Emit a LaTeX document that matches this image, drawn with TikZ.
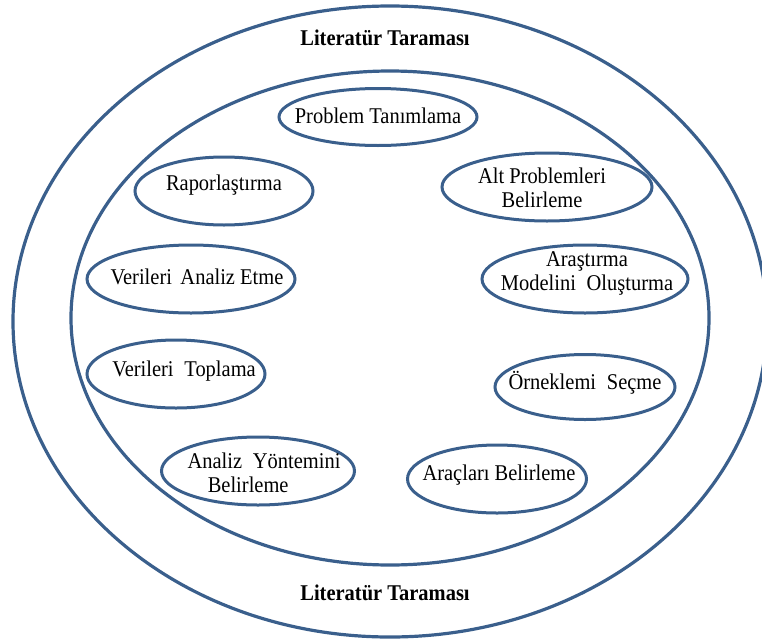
\documentclass[tikz,border=0pt]{standalone}
\usepackage{fontspec}
\setmainfont{Liberation Serif}[FakeStretch=0.91]
\usetikzlibrary{shapes.geometric}
\definecolor{ringblue}{HTML}{3A5F8C}
\begin{document}
\begin{tikzpicture}[x=1pt,y=-1pt,
  ring/.style={ellipse, draw=ringblue, line width=3.2pt, inner sep=0pt, outer sep=0pt},
  stage/.style={ellipse, draw=ringblue, line width=3pt, inner sep=0pt, outer sep=0pt},
  lbl/.style={font=\fontsize{22.5}{24}\selectfont, align=center, inner sep=0pt},
  title/.style={font=\bfseries\fontsize{22.5}{24}\selectfont, inner sep=0pt}]
\useasboundingbox (0,0) rectangle (762,640);
\clip (0,0) rectangle (762,640);
% rings
\node[ring, minimum width=754pt, minimum height=631pt] (outer) at (390,321.5) {};
\node[ring, minimum width=638pt, minimum height=494pt] (inner) at (390,318) {};
\node[title] (ttop) at (385,38) {Literatür Taraması};
\node[title] (tbot) at (385,593) {Literatür Taraması};
% stages
\node[stage, minimum width=198pt, minimum height=57pt] (p1) at (378,117) {};
\node[stage, minimum width=210pt, minimum height=68pt] (p2) at (547,187) {};
\node[stage, minimum width=206pt, minimum height=68pt] (p3) at (585,279) {};
\node[stage, minimum width=180pt, minimum height=65pt] (p4) at (585,387) {};
\node[stage, minimum width=179pt, minimum height=68pt] (p5) at (497,479) {};
\node[stage, minimum width=193pt, minimum height=68pt] (p6) at (258,471) {};
\node[stage, minimum width=178pt, minimum height=68pt] (p7) at (176,374) {};
\node[stage, minimum width=208pt, minimum height=68pt] (p8) at (191,279) {};
\node[stage, minimum width=178pt, minimum height=68pt] (p9) at (224,191) {};
% labels
\node[lbl] (t1) at ([yshift=1pt]p1.center) {Problem Tanımlama};
\node[lbl] (t2) at ([xshift=-5pt,yshift=-1pt]p2.center) {Alt Problemleri\\Belirleme};
\node[lbl] (t3) at ([xshift=2pt,yshift=6pt]p3.center) {Araştırma\\Modelini\hspace{0.25em} Oluşturma};
\node[lbl] (t4) at ([yshift=4pt]p4.center) {Örneklemi\hspace{0.25em} Seçme};
\node[lbl] (t5) at ([xshift=2pt,yshift=4pt]p5.center) {Araçları Belirleme};
\node[lbl, align=left] (t6) at ([xshift=6pt,yshift=-2pt]p6.center) {Analiz\hspace{0.25em} Yöntemini\\\hspace*{0.9em}Belirleme};
\node[lbl] (t7) at ([xshift=8pt,yshift=3pt]p7.center) {Verileri\hspace{0.25em} Toplama};
\node[lbl] (t8) at ([xshift=6pt,yshift=2pt]p8.center) {Verileri\hspace{0.15em} Analiz Etme};
\node[lbl] (t9) at ([yshift=6pt]p9.center) {Raporlaştırma};
\end{tikzpicture}
\end{document}
